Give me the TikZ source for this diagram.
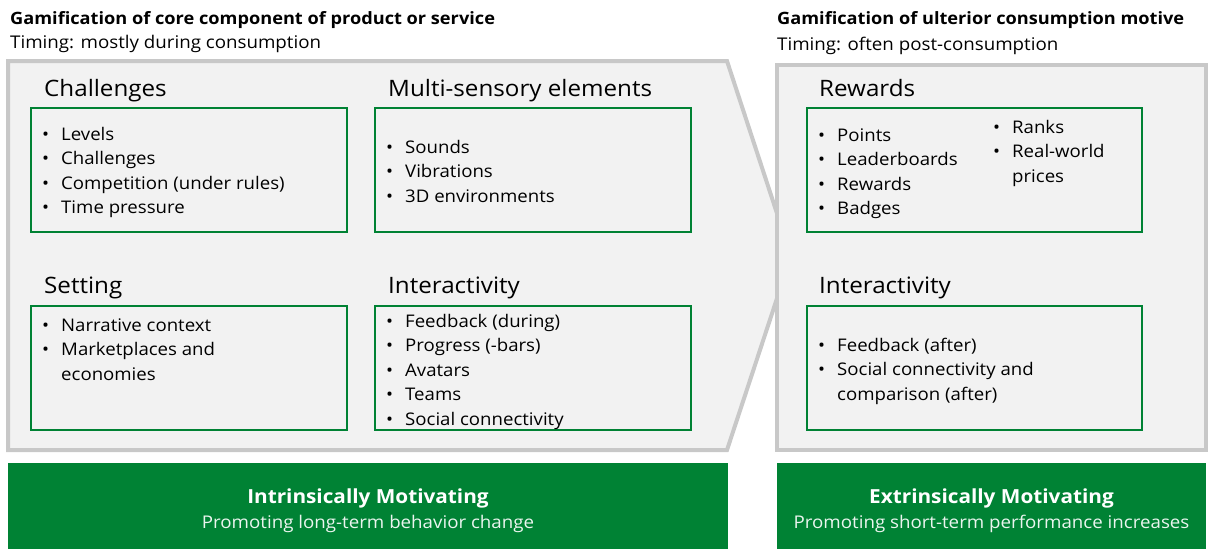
\documentclass[tikz,border=0pt]{standalone}
\usepackage{fontspec}
\setmainfont{Open Sans}[FakeStretch=1.07]
\definecolor{panelgray}{RGB}{242,242,242}
\definecolor{edgegray}{RGB}{200,200,200}
\definecolor{bargreen}{RGB}{0,130,52}
\newcommand{\bulletlist}[1]{\begin{tabular}[t]{@{}l@{\hspace{12pt}}l@{}}#1\end{tabular}}
\begin{document}
\begin{tikzpicture}[x=1pt,y=-1pt,
  panel/.style={draw=edgegray,fill=panelgray,line width=4pt,line join=miter},
  greenbox/.style={draw=bargreen,line width=2pt,inner sep=0pt},
  boxtitle/.style={anchor=base west,inner sep=0pt,font=\fontsize{22.6}{26}\selectfont},
  items/.style={anchor=base west,inner sep=0pt,font=\fontsize{17.4}{24.5}\selectfont},
  header/.style={anchor=base west,inner sep=0pt},
  bar/.style={fill=bargreen,inner sep=0pt},
  bartext/.style={text=white,inner sep=0pt,anchor=base}]
\useasboundingbox (0,0) rectangle (1211,549);
% headers
\node[header,font=\fontsize{17}{19}\selectfont\bfseries] (lhead) at (10,24) {Gamification of core component of product or service};
\node[header,font=\fontsize{17.5}{20}\selectfont] (ltiming) at (10,48) {Timing: mostly during consumption};
\node[header,font=\fontsize{17}{19}\selectfont\bfseries] (rhead) at (777,24) {Gamification of ulterior consumption motive};
\node[header,font=\fontsize{17.5}{20}\selectfont] (rtiming) at (777,50) {Timing: often post-consumption};
% gray panels
\draw[panel] (8,61)--(727,61)--(791,256)--(727,450)--(8,450)--cycle;
\draw[panel] (777,65) rectangle (1206,450);
% green boxes
\node[greenbox,minimum width=316pt,minimum height=124pt] (chbox) at (189,170) {};
\node[greenbox,minimum width=316pt,minimum height=124pt] (msbox) at (533,170) {};
\node[greenbox,minimum width=316pt,minimum height=124pt] (stbox) at (189,368) {};
\node[greenbox,minimum width=316pt,minimum height=124pt] (inbox) at (533,368) {};
\node[greenbox,minimum width=335pt,minimum height=124pt] (rwbox) at (974.5,170) {};
\node[greenbox,minimum width=335pt,minimum height=124pt] (irbox) at (974.5,368) {};
% titles
\node[boxtitle] (chtitle) at (44,96) {Challenges};
\node[boxtitle] (mstitle) at (388,96) {Multi-sensory elements};
\node[boxtitle] (sttitle) at (44,293) {Setting};
\node[boxtitle] (intitle) at (388,293) {Interactivity};
\node[boxtitle] (rwtitle) at (819,96) {Rewards};
\node[boxtitle] (irtitle) at (819,293) {Interactivity};
% lists
\node[items] (chlist) at (42,140) {\bulletlist{\textbullet & Levels\\ \textbullet & Challenges\\ \textbullet & Competition (under rules)\\ \textbullet & Time pressure}};
\node[items] (mslist) at (386,153) {\bulletlist{\textbullet & Sounds\\ \textbullet & Vibrations\\ \textbullet & 3D environments}};
\node[items] (stlist) at (42,331) {\bulletlist{\textbullet & Narrative context\\ \textbullet & Marketplaces and\\ & economies}};
\node[items] (inlist) at (386,327) {\bulletlist{\textbullet & Feedback (during)\\ \textbullet & Progress (-bars)\\ \textbullet & Avatars\\ \textbullet & Teams\\ \textbullet & Social connectivity}};
\node[items] (rwlist) at (818,141) {\bulletlist{\textbullet & Points\\ \textbullet & Leaderboards\\ \textbullet & Rewards\\ \textbullet & Badges}};
\node[items] (rklist) at (993,133) {\bulletlist{\textbullet & Ranks\\ \textbullet & Real-world\\ & prices}};
\node[items] (irlist) at (818,351) {\bulletlist{\textbullet & Feedback (after)\\ \textbullet & Social connectivity and\\ & comparison (after)}};
% green bars
\node[bar,minimum width=720pt,minimum height=86pt] (lbar) at (368,506) {};
\node[bar,minimum width=429pt,minimum height=86pt] (rbar) at (991.5,506) {};
\node[bartext,font=\fontsize{19.4}{22}\selectfont\bfseries] (lbartitle) at (368,503) {Intrinsically Motivating};
\node[bartext,font=\fontsize{17.5}{20}\selectfont,text=white!92!bargreen] (lbarsub) at (368,528) {Promoting long-term behavior change};
\node[bartext,font=\fontsize{19.4}{22}\selectfont\bfseries] (rbartitle) at (991.5,503) {Extrinsically Motivating};
\node[bartext,font=\fontsize{17.5}{20}\selectfont,text=white!92!bargreen] (rbarsub) at (991.5,528) {Promoting short-term performance increases};
\end{tikzpicture}
\end{document}
